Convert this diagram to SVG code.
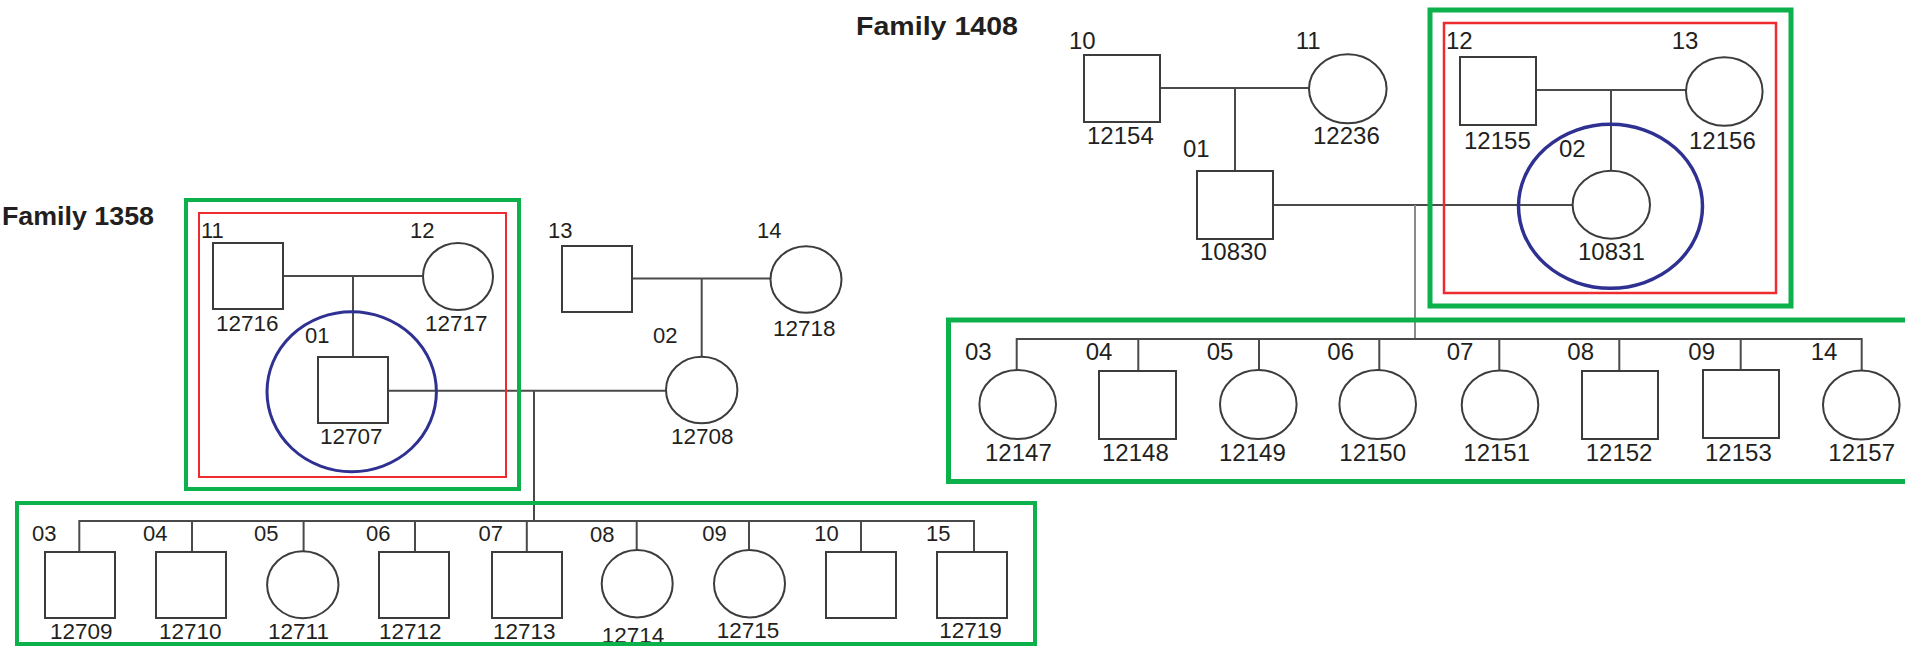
<svg xmlns="http://www.w3.org/2000/svg" width="1905" height="646" viewBox="0 0 1905 646">
<style>
.m{fill:#fff;stroke:#3c3c3c;stroke-width:2}
.c{fill:none;stroke:#4a4a4a;stroke-width:2}
.g{fill:none;stroke:#0db14b}
.r{fill:none;stroke:#ee2b2e}
.b{fill:none;stroke:#2e3192}
text{font-family:"Liberation Sans",Arial,sans-serif;fill:#231f20}
.t{font-weight:bold;font-size:26px}
.lg{font-size:22px}
.li{font-size:22.5px}
.rg{font-size:24px}
.ri{font-size:24px}
</style>
<rect width="1905" height="646" fill="#fff"/>
<text class="t" x="2" y="225" textLength="152" lengthAdjust="spacingAndGlyphs">Family 1358</text>
<text class="t" x="856" y="35" textLength="162" lengthAdjust="spacingAndGlyphs">Family 1408</text>

<g id="connectors">
<path class="c" d="M283 276H422.5M353 276V357M632 278.5H770.7M701.7 278.5V356.7M388 390.7H666M534 390.7V521"/>
<path class="c" d="M79.3 552V521H974V552M192 521V552M303.6 521V551M415 521V552M526.8 521V552M636.7 521V550M749 521V550M861 521V552"/>
<path class="c" d="M1160 88H1309M1235 88V171M1536 90H1686M1611 90V170.7M1273 205H1572.7"/>
<path class="c" style="stroke:#8a8a8a" d="M1415 205V339"/>
<path class="c" d="M1016.7 370V339H1861.7V370.5M1138.3 339V371M1259 339V370M1379.3 339V370M1499.3 339V370.5M1619.3 339V371M1740.7 339V370"/>
</g>

<!-- Family 1358 -->
<g id="f1358-11"><rect class="m" x="213" y="243" width="70" height="66"/><text class="lg" x="201" y="238">11</text><text class="li" x="216" y="331">12716</text></g>
<g id="f1358-12"><ellipse class="m" cx="458" cy="276.5" rx="35" ry="33.5"/><text class="lg" x="410" y="238">12</text><text class="li" x="425" y="331">12717</text></g>
<g id="f1358-13"><rect class="m" x="562" y="246" width="70" height="66"/><text class="lg" x="548" y="238">13</text></g>
<g id="f1358-14"><ellipse class="m" cx="806" cy="279.5" rx="35.5" ry="33.3"/><text class="lg" x="757" y="238">14</text><text class="li" x="773" y="336">12718</text></g>
<g id="f1358-01"><rect class="m" x="318" y="357" width="70" height="66"/><text class="lg" x="305" y="343">01</text><text class="li" x="320" y="444">12707</text></g>
<g id="f1358-02"><ellipse class="m" cx="701.7" cy="390" rx="35.7" ry="33.3"/><text class="lg" x="653" y="343">02</text><text class="li" x="671" y="444">12708</text></g>
<g id="f1358-03"><rect class="m" x="45" y="552" width="70" height="66"/><text class="lg" x="32" y="541">03</text><text class="li" x="50" y="639">12709</text></g>
<g id="f1358-04"><rect class="m" x="156" y="552" width="70" height="66"/><text class="lg" x="143" y="541">04</text><text class="li" x="159" y="639">12710</text></g>
<g id="f1358-05"><ellipse class="m" cx="302.8" cy="584.7" rx="35.7" ry="33.5"/><text class="lg" x="254" y="541">05</text><text class="li" x="268" y="639">12711</text></g>
<g id="f1358-06"><rect class="m" x="379" y="552" width="70" height="66"/><text class="lg" x="366" y="541">06</text><text class="li" x="379" y="639">12712</text></g>
<g id="f1358-07"><rect class="m" x="492" y="552" width="70" height="66"/><text class="lg" x="478.6" y="541">07</text><text class="li" x="493" y="639">12713</text></g>
<g id="f1358-08"><ellipse class="m" cx="637.2" cy="583.7" rx="35.5" ry="33.7"/><text class="lg" x="590" y="541.7">08</text><text class="li" x="601.7" y="642.7">12714</text></g>
<g id="f1358-09"><ellipse class="m" cx="749.5" cy="583.7" rx="35.5" ry="33.7"/><text class="lg" x="702.3" y="541">09</text><text class="li" x="716.7" y="638.3">12715</text></g>
<g id="f1358-10"><rect class="m" x="826" y="552" width="70" height="66"/><text class="lg" x="814.3" y="541">10</text></g>
<g id="f1358-15"><rect class="m" x="937" y="552" width="70" height="66"/><text class="lg" x="926" y="541">15</text><text class="li" x="939.3" y="638.3">12719</text></g>

<!-- Family 1408 -->
<g id="f1408-10"><rect class="m" x="1084" y="55" width="76" height="67"/><text class="rg" x="1069" y="49.3">10</text><text class="ri" x="1087" y="144">12154</text></g>
<g id="f1408-11"><ellipse class="m" cx="1347.8" cy="88.8" rx="38.8" ry="34.5"/><text class="rg" x="1295.7" y="49.3">11</text><text class="ri" x="1313" y="144">12236</text></g>
<g id="f1408-01"><rect class="m" x="1197" y="171" width="76" height="68"/><text class="rg" x="1183" y="156.7">01</text><text class="ri" x="1200" y="260">10830</text></g>
<g id="f1408-12"><rect class="m" x="1460" y="57" width="76" height="68"/><text class="rg" x="1446" y="49.3">12</text><text class="ri" x="1464" y="149">12155</text></g>
<g id="f1408-13"><ellipse class="m" cx="1724.3" cy="91.5" rx="38.3" ry="34.2"/><text class="rg" x="1671.7" y="49.3">13</text><text class="ri" x="1689" y="149">12156</text></g>
<g id="f1408-02"><ellipse class="m" cx="1611.3" cy="204.7" rx="38.7" ry="34"/><text class="rg" x="1559" y="156.7">02</text><text class="ri" x="1578" y="260">10831</text></g>
<g id="f1408-03"><ellipse class="m" cx="1017.7" cy="404.5" rx="38.3" ry="34.5"/><text class="rg" x="965" y="360">03</text><text class="ri" x="985" y="460.7">12147</text></g>
<g id="f1408-04"><rect class="m" x="1099" y="371" width="77" height="68"/><text class="rg" x="1085.7" y="360">04</text><text class="ri" x="1102" y="460.7">12148</text></g>
<g id="f1408-05"><ellipse class="m" cx="1258.3" cy="404.5" rx="38.3" ry="34.5"/><text class="rg" x="1206.7" y="360">05</text><text class="ri" x="1219" y="460.7">12149</text></g>
<g id="f1408-06"><ellipse class="m" cx="1377.7" cy="404.5" rx="38.3" ry="34.5"/><text class="rg" x="1327.3" y="360">06</text><text class="ri" x="1339.3" y="460.7">12150</text></g>
<g id="f1408-07"><ellipse class="m" cx="1500" cy="405" rx="38.3" ry="34.5"/><text class="rg" x="1446.7" y="360">07</text><text class="ri" x="1463.3" y="460.7">12151</text></g>
<g id="f1408-08"><rect class="m" x="1582" y="371" width="76" height="68"/><text class="rg" x="1567.3" y="360">08</text><text class="ri" x="1585.7" y="460.7">12152</text></g>
<g id="f1408-09"><rect class="m" x="1703" y="370" width="76" height="68"/><text class="rg" x="1688.3" y="360">09</text><text class="ri" x="1705" y="460.7">12153</text></g>
<g id="f1408-14"><ellipse class="m" cx="1861.3" cy="405" rx="38.3" ry="34.5"/><text class="rg" x="1810.7" y="360">14</text><text class="ri" x="1828.3" y="460.7">12157</text></g>

<g id="highlights">
<rect class="g" x="186" y="200" width="333" height="289" stroke-width="4"/>
<rect class="r" x="199" y="213" width="307" height="264" stroke-width="2"/>
<ellipse class="b" cx="351.7" cy="391.7" rx="84.7" ry="80" stroke-width="3"/>
<rect class="g" x="17" y="503" width="1018" height="141" stroke-width="4"/>
<rect class="g" x="1430" y="10" width="361" height="296" stroke-width="5"/>
<rect class="r" x="1444" y="23" width="332" height="270" stroke-width="2.5"/>
<ellipse class="b" cx="1610.5" cy="206.3" rx="92" ry="82" stroke-width="3.5"/>
<rect class="g" x="948.5" y="320" width="1000" height="161.5" stroke-width="5"/>
</g>
</svg>
